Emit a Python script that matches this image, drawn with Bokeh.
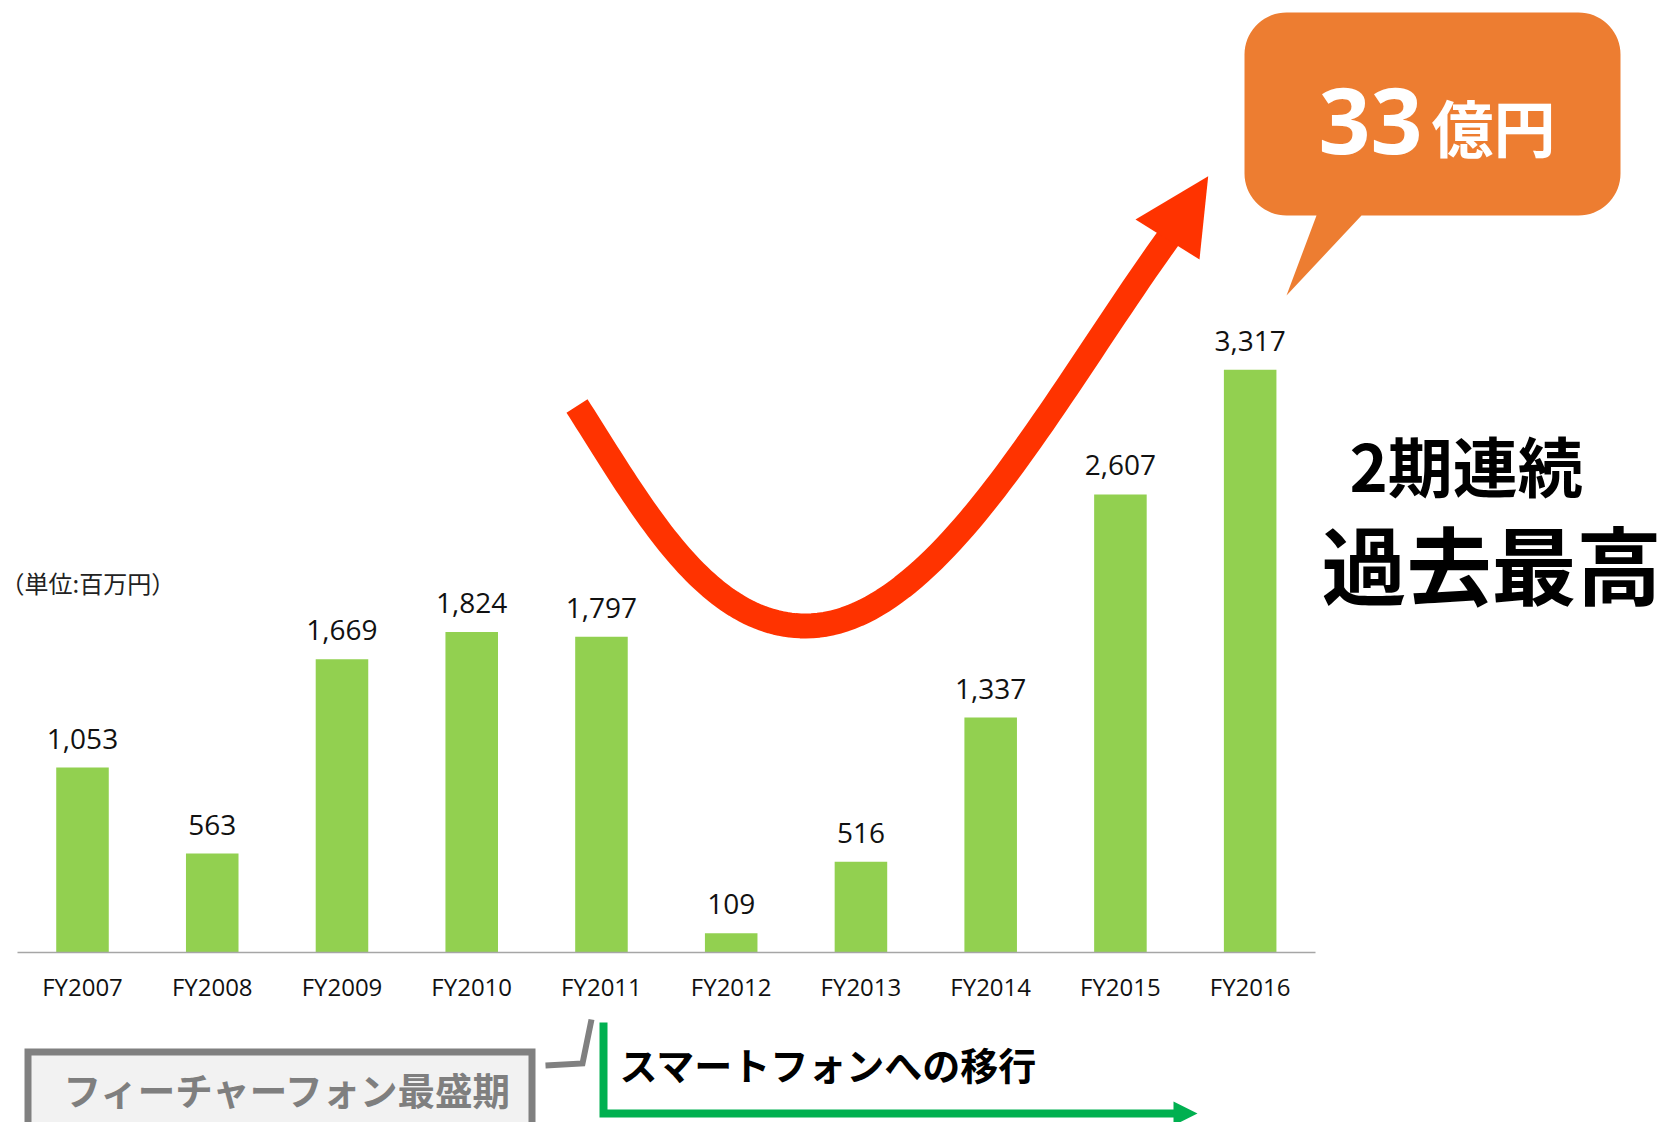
import numpy as np
from bokeh.plotting import figure
from bokeh.models import ColumnDataSource, LinearAxis, FixedTicker, Range1d
from bokeh.core.properties import value
from bokeh.embed import file_html
from bokeh.resources import INLINE

# ---------------- data ----------------
categories = ["FY2007", "FY2008", "FY2009", "FY2010", "FY2011",
              "FY2012", "FY2013", "FY2014", "FY2015", "FY2016"]
sales = [1053, 563, 1669, 1824, 1797, 109, 516, 1337, 2607, 3317]   # 百万円
unit_label = "（単位:百万円）"
callout_num = "33"
callout_unit = "億円"
headline_1 = "2期連続"
headline_2 = "過去最高"
era_1 = "フィーチャーフォン最盛期"
era_2 = "スマートフォンへの移行"

# ---------------- layout geometry ----------------
W, H = 1666, 1122
X0, DX = 82.0, 129.74          # page x of first category centre, category pitch
Y0, PXU = 952.0, 0.1757        # page y of zero line, pixels per unit
K_LATIN, K_CJK = 0.32, 0.43    # baseline correction (fraction of font size)


def X(px):
    return (px - X0) / DX


def Y(py):
    return (Y0 - py) / PXU


p = figure(width=W, height=H, output_backend="svg", toolbar_location=None,
           x_range=Range1d(X(0), X(W)),
           y_range=Range1d(Y(H), Y(0)),
           x_axis_location=None, y_axis_location=None,
           min_border=0, outline_line_color=None,
           background_fill_color="white", border_fill_color="white")
p.grid.visible = False

idx = list(range(len(categories)))
LABEL_PX = 28
src = ColumnDataSource(dict(
    x=idx, top=sales,
    ly=[v + (20 + K_LATIN * LABEL_PX) / PXU for v in sales],
    label=[f"{v:,}" for v in sales],
))

# bars
p.vbar(x="x", top="top", bottom=0, width=0.405, source=src,
       fill_color="#92D050", line_color=None)

# value labels
p.text(x="x", y="ly", text="label", source=src,
       text_font=value("Open Sans"), text_font_size=f"{LABEL_PX}px",
       text_color="#111111", text_align="center", text_baseline="alphabetic")

# category axis placed on the zero line
ax = LinearAxis(fixed_location=0, ticker=FixedTicker(ticks=idx),
                major_label_overrides={i: c for i, c in zip(idx, categories)},
                bounds=(-0.5, 9.5))
ax.axis_line_color = "#A6A6A6"
ax.axis_line_width = 1.5
ax.major_tick_line_color = None
ax.minor_tick_line_color = None
ax.major_label_standoff = 11
ax.major_label_text_font = "Open Sans"
ax.major_label_text_font_size = "24px"
ax.major_label_text_color = "#111111"
p.add_layout(ax, "below")


def label(x, base, txt, size, font="Noto Sans CJK JP", bold=True,
          color="#000000", k=K_CJK):
    p.text(x=[X(x)], y=[Y(base - k * size)], text=[txt],
           text_font=value(font), text_font_style="bold" if bold else "normal",
           text_font_size=f"{size}px", text_color=color,
           text_align="left", text_baseline="alphabetic")


# unit label
label(0, 592, unit_label, 24, bold=False, color="#222222")

# ---------------- red rising arrow ----------------
RED = "#FF3300"


def cubic(p0, p1, p2, p3, n=60):
    t = np.linspace(0, 1, n)[:, None]
    a, b, c, d = (np.array(q, dtype=float) for q in (p0, p1, p2, p3))
    return ((1 - t) ** 3) * a + 3 * ((1 - t) ** 2) * t * b + 3 * (1 - t) * t ** 2 * c + t ** 3 * d


seg1 = cubic((576.5, 405.5), (641, 506), (705, 625.5), (805, 625.5))
seg2 = cubic((805, 625.5), (935, 625.5), (1050, 401), (1169, 236))
path = np.vstack([seg1, seg2[1:]])
p.line([X(v) for v in path[:, 0]], [Y(v) for v in path[:, 1]],
       line_color=RED, line_width=25, line_join="round", line_cap="butt")
p.patch([X(1135), X(1207.7), X(1199)], [Y(219), Y(175.7), Y(259)],
        fill_color=RED, line_color=None)

# ---------------- orange callout ----------------
def callout(l, t, r, b, rad, tail):
    pts = []

    def arc(cx, cy, a0, a1):
        for a in np.linspace(a0, a1, 18):
            pts.append((cx + rad * np.cos(a), cy + rad * np.sin(a)))

    arc(l + rad, t + rad, np.pi, 1.5 * np.pi)
    arc(r - rad, t + rad, 1.5 * np.pi, 2 * np.pi)
    arc(r - rad, b - rad, 0, 0.5 * np.pi)
    pts.extend(tail)
    arc(l + rad, b - rad, 0.5 * np.pi, np.pi)
    return [X(a) for a, _ in pts], [Y(b_) for _, b_ in pts]


cx, cy = callout(1244, 12, 1620, 215, 42,
                 [(1361, 215), (1286, 295), (1316, 215)])
p.patch(cx, cy, fill_color="#ED7D31", line_color=None)
label(1318, 151, callout_num, 91, font="Noto Sans", color="white", k=0.334)
label(1431, 152, callout_unit, 62, color="white")

# ---------------- headline ----------------
label(1349, 491, headline_1, 65)
label(1321, 598, headline_2, 85)

# ---------------- era annotations ----------------
p.quad(left=X(27.5), right=X(531.5), top=Y(1051.5), bottom=Y(1170),
       fill_color="#F2F2F2", line_color="#808080", line_width=7,
       line_join="miter")
label(63, 1104, era_1, 37.5, color="#7F7F7F")
p.line([X(545), X(582), X(591)], [Y(1065), Y(1063), Y(1019)],
       line_color="#808080", line_width=6, line_join="miter")

GREEN = "#00B050"
p.line([X(603), X(603), X(1176)], [Y(1022), Y(1113), Y(1113)],
       line_color=GREEN, line_width=8, line_join="miter")
p.patch([X(1173), X(1197), X(1173)], [Y(1101), Y(1113), Y(1125)],
        fill_color=GREEN, line_color=None)
label(619, 1079, era_2, 38)

open("out.html", "w").write(file_html(p, INLINE))
